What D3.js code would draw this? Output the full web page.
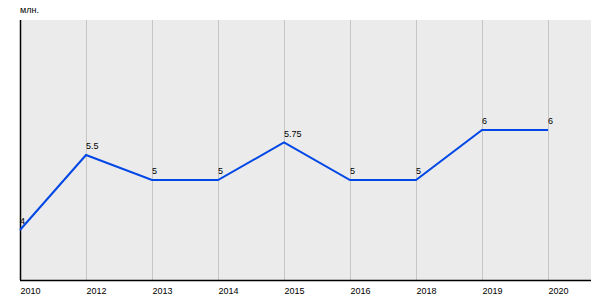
<!DOCTYPE html>
<meta charset="utf-8">
<script src="https://d3js.org/d3.v7.min.js"></script>
<style>
    body { margin: 0; }
    text { font-family: Arial, "Liberation Sans", sans-serif; }
</style>
<div id="chart"></div>
<script>
    // data
    const years = ["2010", "2012", "2013", "2014", "2015", "2016", "2018", "2019", "2020"];
    const values = [4, 5.5, 5, 5, 5.75, 5, 5, 6, 6];
    const unitLabel = "млн.";

    const margin = { top: 20, right: 9, bottom: 20, left: 20 },
        width = 600 - margin.left - margin.right,
        height = 300 - margin.top - margin.bottom;

    const svg = d3.select("#chart")
        .append("svg")
        .attr("width", 600)
        .attr("height", 300)
        .append("g")
        .attr("transform", `translate(${margin.left},${margin.top})`);

    // background
    svg.append("rect")
        .attr("width", width)
        .attr("height", height)
        .attr("fill", "#ebebeb");

    const x = d3.scalePoint()
        .domain(years)
        .range([0, 66 * (years.length - 1)]);

    const y = d3.scaleLinear()
        .domain([3, 8.2])
        .range([height, 0]);

    // vertical grid
    svg.selectAll(".grid")
        .data(years)
        .enter()
        .append("line")
        .attr("x1", d => x(d) + 0.5)
        .attr("x2", d => x(d) + 0.5)
        .attr("y1", 0)
        .attr("y2", height)
        .attr("stroke", "#c6c6c6")
        .attr("stroke-width", 1);

    // x axis
    const xAxis = svg.append("g")
        .attr("transform", `translate(0,${height})`)
        .call(d3.axisBottom(x).tickSize(0).tickPadding(8));
    xAxis.select(".domain").remove();
    xAxis.selectAll("text")
        .attr("text-anchor", "start")
        .attr("font-size", "9px")
        .attr("fill", "#000");

    svg.append("line")
        .attr("x1", 0).attr("x2", width)
        .attr("y1", height + 0.5).attr("y2", height + 0.5)
        .attr("stroke", "#000").attr("stroke-width", 1.5);
    svg.append("line")
        .attr("x1", 0.5).attr("x2", 0.5)
        .attr("y1", 0).attr("y2", height)
        .attr("stroke", "#000").attr("stroke-width", 1.5);

    // line
    svg.append("path")
        .datum(years.map((d, i) => ({ year: d, value: values[i] })))
        .attr("fill", "none")
        .attr("stroke", "#0047e6")
        .attr("stroke-width", 2)
        .attr("d", d3.line()
            .x(d => x(d.year))
            .y(d => y(d.value)));

    // value labels
    svg.selectAll(".lbl")
        .data(years)
        .enter()
        .append("text")
        .attr("x", d => x(d))
        .attr("y", (d, i) => y(values[i]) - 6)
        .attr("font-size", "9px")
        .attr("fill", "#000")
        .text((d, i) => values[i]);

    // unit
    d3.select("svg").append("text")
        .attr("x", 20)
        .attr("y", 13)
        .attr("font-size", "9px")
        .attr("fill", "#000")
        .text(unitLabel);
</script>
